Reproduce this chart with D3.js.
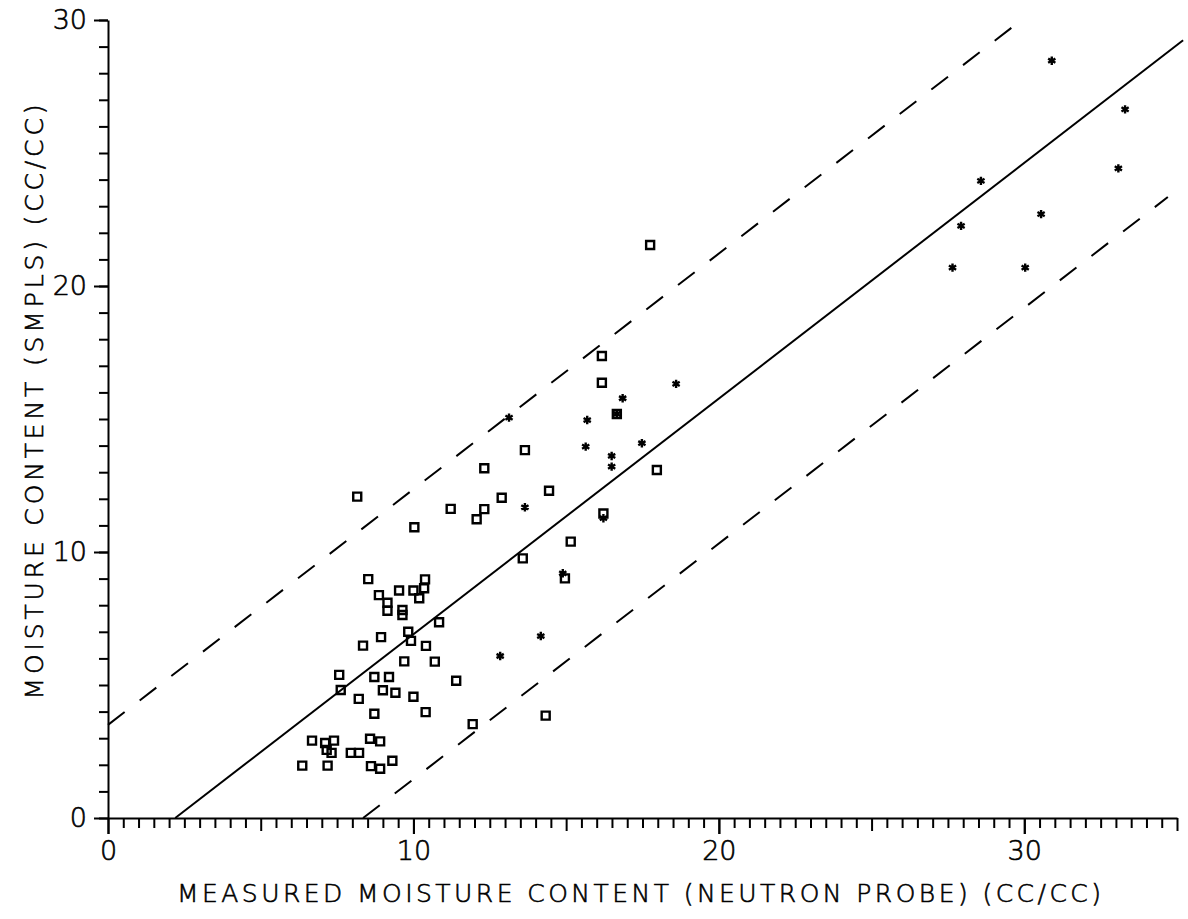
<!DOCTYPE html>
<html>
<head>
<meta charset="utf-8">
<script src="https://cdn.jsdelivr.net/npm/d3@7"></script>
<style>
body { margin: 0; background: #fff; }
text { font-family: "DejaVu Sans", sans-serif; font-weight: 200; fill: #000; stroke: #000; stroke-width: 0.6; }
</style>
</head>
<body>
<div id="chart_container"></div>
<script>
// open squares
var squarePoints = [
    [8.52, 8.98], [10.38, 8.97], [10.35, 8.64], [9.53, 8.55], [10.00, 8.55],
    [10.19, 8.26], [8.87, 8.38], [9.15, 8.09], [9.15, 7.79], [9.64, 7.82],
    [9.64, 7.63], [10.84, 7.36], [9.83, 7.00], [9.92, 6.66], [8.94, 6.80],
    [8.35, 6.48], [10.41, 6.47], [9.70, 5.89], [10.70, 5.88], [7.57, 5.38],
    [7.62, 4.81], [8.72, 5.30], [9.20, 5.30], [9.00, 4.80], [9.41, 4.71],
    [10.00, 4.56], [8.21, 4.48], [11.40, 5.16], [8.72, 3.92], [10.40, 3.98],
    [6.68, 2.91], [7.11, 2.82], [7.40, 2.91], [7.16, 2.56], [7.32, 2.45],
    [7.95, 2.45], [8.22, 2.45], [8.58, 2.98], [8.91, 2.88], [6.36, 1.97],
    [7.19, 1.97], [8.61, 1.95], [8.91, 1.85], [9.31, 2.15], [11.94, 3.53],
    [14.33, 3.85], [13.58, 9.76], [14.96, 9.01], [15.15, 10.39], [16.17, 17.37],
    [16.17, 16.36], [16.66, 15.19], [13.65, 13.83], [12.32, 13.15], [17.97, 13.08],
    [8.16, 12.08], [12.89, 12.04], [14.44, 12.30], [11.22, 11.62], [12.32, 11.61],
    [12.07, 11.23], [10.03, 10.93], [16.22, 11.45], [17.75, 21.54]
];

// asterisks
var starPoints = [
    [14.17, 6.84], [12.84, 6.09], [14.89, 9.20], [13.13, 15.05], [15.69, 14.96],
    [16.85, 15.78], [18.60, 16.32], [15.64, 13.96], [17.48, 14.09], [16.49, 13.61],
    [16.49, 13.21], [13.65, 11.68], [16.22, 11.27], [16.66, 15.19],
    [30.90, 28.47], [33.30, 26.64], [33.08, 24.42], [28.58, 23.95], [30.55, 22.70],
    [27.93, 22.26], [27.65, 20.69], [30.03, 20.69]
];

// regression line and band: y = slope * x + intercept
var lineSlope = 0.886;
var lineIntercepts = [3.5, -1.95, -7.4];
var lineEndX = [29.6, 35.2, 34.7];
var lineDashed = [true, false, true];

var xTickLabels = [0, 10, 20, 30];
var yTickLabels = [0, 10, 20, 30];

var svg = d3.select("#chart_container").append("svg")
    .attr("width", 1188)
    .attr("height", 919);

var x = d3.scaleLinear().domain([0, 35]).range([108, 1177]);
var y = d3.scaleLinear().domain([0, 30]).range([818, 20]);

// x axis: minor ticks every 0.5, longer at 5, longest at 10
var xMinor = svg.append("g")
    .attr("transform", "translate(0," + y(0) + ")")
    .call(d3.axisBottom(x)
        .tickValues(d3.range(0, 35.01, 0.5))
        .tickSize(10)
        .tickSizeOuter(0)
        .tickFormat(""));
xMinor.selectAll(".tick line")
    .attr("y2", function(d) { return d % 10 === 0 ? 16 : (d % 5 === 0 ? 13 : 10); });

var xMajor = svg.append("g")
    .attr("transform", "translate(0," + y(0) + ")")
    .call(d3.axisBottom(x)
        .tickValues(xTickLabels)
        .tickSize(16)
        .tickPadding(7)
        .tickSizeOuter(0)
        .tickFormat(d3.format("d")));
xMajor.select(".domain").remove();

// y axis: minor ticks every 1, longer at 10
var yMinor = svg.append("g")
    .attr("transform", "translate(" + x(0) + ",0)")
    .call(d3.axisLeft(y)
        .tickValues(d3.range(0, 30.01, 1))
        .tickSize(9)
        .tickSizeOuter(0)
        .tickFormat(""));

var yMajor = svg.append("g")
    .attr("transform", "translate(" + x(0) + ",0)")
    .call(d3.axisLeft(y)
        .tickValues(yTickLabels)
        .tickSize(14)
        .tickPadding(7)
        .tickSizeOuter(0)
        .tickFormat(d3.format("d")));
yMajor.select(".domain").remove();

svg.selectAll(".domain, .tick line")
    .attr("stroke", "#000")
    .attr("stroke-width", 2);
svg.selectAll(".tick text")
    .attr("font-size", 27)
    .attr("font-family", "'DejaVu Sans', sans-serif")
    .attr("font-weight", 200);

// fit line and dashed band
var linePath = d3.line()
    .x(function(d) { return x(d[0]); })
    .y(function(d) { return y(d[1]); });

for (var i = 0; i < lineIntercepts.length; i++) {
    var b = lineIntercepts[i];
    var x0 = Math.max(0, -b / lineSlope);
    var x1 = lineEndX[i];
    svg.append("path")
        .attr("d", linePath([[x0, lineSlope * x0 + b], [x1, lineSlope * x1 + b]]))
        .attr("fill", "none")
        .attr("stroke", "#000")
        .attr("stroke-width", 2)
        .attr("stroke-dasharray", lineDashed[i] ? "21,19" : null);
}

// points
svg.append("g").selectAll("path")
    .data(squarePoints)
    .enter().append("path")
    .attr("d", d3.symbol(d3.symbolSquare, 64))
    .attr("transform", function(d) { return "translate(" + x(d[0]) + "," + y(d[1]) + ")"; })
    .attr("fill", "none")
    .attr("stroke", "#000")
    .attr("stroke-width", 2.4);

svg.append("g").selectAll("path")
    .data(starPoints)
    .enter().append("path")
    .attr("d", d3.symbol(d3.symbolAsterisk, 49))
    .attr("transform", function(d) { return "translate(" + x(d[0]) + "," + y(d[1]) + ")"; })
    .attr("fill", "none")
    .attr("stroke", "#000")
    .attr("stroke-width", 2.4);

// axis titles
svg.append("text")
    .attr("x", 639)
    .attr("y", 902)
    .attr("text-anchor", "middle")
    .attr("font-size", 25)
    .attr("textLength", 924)
    .attr("lengthAdjust", "spacing")
    .text("MEASURED MOISTURE CONTENT (NEUTRON PROBE) (CC/CC)");

svg.append("text")
    .attr("transform", "translate(43,402) rotate(-90)")
    .attr("text-anchor", "middle")
    .attr("font-size", 25)
    .attr("textLength", 595)
    .attr("lengthAdjust", "spacing")
    .text("MOISTURE CONTENT (SMPLS) (CC/CC)");
</script>
</body>
</html>
